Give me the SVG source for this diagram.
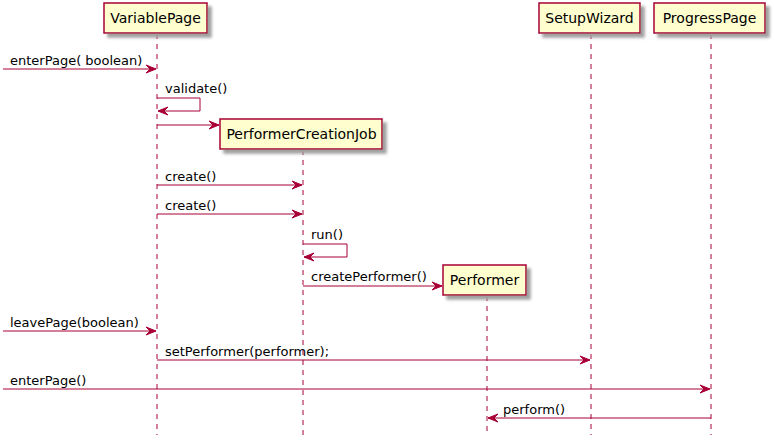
<svg xmlns="http://www.w3.org/2000/svg" width="775" height="448" viewBox="0 0 775 448">
<style>
.box{fill:#FEFECE;stroke:#A80036;stroke-width:1.5;}
.life{stroke:#A80036;stroke-width:1;stroke-dasharray:5,5;fill:none;}
.msg{stroke:#A80036;stroke-width:1;fill:none;}
.head{fill:#A80036;stroke:#A80036;stroke-width:1;}
.pt{font-family:"DejaVu Sans",sans-serif;font-size:14px;fill:#000;text-anchor:middle;}
.mt{font-family:"DejaVu Sans",sans-serif;font-size:13px;fill:#000;}
</style>
<defs>
<filter id="sh" x="-20%" y="-30%" width="150%" height="180%">
<feGaussianBlur in="SourceAlpha" stdDeviation="1.5"/>
<feOffset dx="4" dy="4" result="b"/>
<feColorMatrix in="b" type="matrix" values="0 0 0 0 0.35  0 0 0 0 0.35  0 0 0 0 0.35  0 0 0 1 0" result="c"/>
<feMerge><feMergeNode in="c"/><feMergeNode in="SourceGraphic"/></feMerge>
</filter>
</defs>
<rect width="775" height="448" fill="#FFFFFF"/>
<g id="lifelines">
<line class="life" x1="157" y1="34" x2="157" y2="435"/>
<line class="life" x1="303" y1="150" x2="303" y2="435"/>
<line class="life" x1="487" y1="296" x2="487" y2="435"/>
<line class="life" x1="591" y1="34" x2="591" y2="435"/>
<line class="life" x1="711" y1="34" x2="711" y2="435"/>
</g>
<g id="VariablePage">
<rect class="box" x="104" y="3" width="103" height="30" filter="url(#sh)"/>
<text class="pt" x="155.5" y="23">VariablePage</text>
</g>
<g id="SetupWizard">
<rect class="box" x="539" y="3" width="101" height="30" filter="url(#sh)"/>
<text class="pt" x="589.5" y="23">SetupWizard</text>
</g>
<g id="ProgressPage">
<rect class="box" x="654" y="3" width="111" height="30" filter="url(#sh)"/>
<text class="pt" x="709.5" y="23">ProgressPage</text>
</g>
<g id="PerformerCreationJob">
<rect class="box" x="220" y="119" width="162" height="30" filter="url(#sh)"/>
<text class="pt" x="301.5" y="139">PerformerCreationJob</text>
</g>
<g id="Performer">
<rect class="box" x="443" y="265" width="83" height="30" filter="url(#sh)"/>
<text class="pt" x="484.5" y="285">Performer</text>
</g>
<g id="connectors">
<line class="msg" x1="3" y1="69" x2="156" y2="69"/>
<polygon class="head" points="146,65 156,69 146,73 150,69"/>
<text class="mt" x="10" y="65">enterPage( boolean)</text>

<polyline class="msg" points="157,98 200,98 200,111 158,111"/>
<polygon class="head" points="168,107 158,111 168,115 164,111"/>
<text class="mt" x="165" y="93">validate()</text>

<line class="msg" x1="157" y1="125" x2="219" y2="125"/>
<polygon class="head" points="209,121 219,125 209,129 213,125"/>

<line class="msg" x1="157" y1="185" x2="302" y2="185"/>
<polygon class="head" points="292,181 302,185 292,189 296,185"/>
<text class="mt" x="165" y="181">create()</text>

<line class="msg" x1="157" y1="214" x2="302" y2="214"/>
<polygon class="head" points="292,210 302,214 292,218 296,214"/>
<text class="mt" x="165" y="210">create()</text>

<polyline class="msg" points="303,244 347,244 347,257 304,257"/>
<polygon class="head" points="314,253 304,257 314,261 310,257"/>
<text class="mt" x="311" y="239">run()</text>

<line class="msg" x1="303" y1="286" x2="442" y2="286"/>
<polygon class="head" points="432,282 442,286 432,290 436,286"/>
<text class="mt" x="311" y="281">createPerformer()</text>

<line class="msg" x1="3" y1="331" x2="156" y2="331"/>
<polygon class="head" points="146,327 156,331 146,335 150,331"/>
<text class="mt" x="10" y="327">leavePage(boolean)</text>

<line class="msg" x1="157" y1="360" x2="590" y2="360"/>
<polygon class="head" points="580,356 590,360 580,364 584,360"/>
<text class="mt" x="165" y="356">setPerformer(performer);</text>

<line class="msg" x1="3" y1="389" x2="710" y2="389"/>
<polygon class="head" points="700,385 710,389 700,393 704,389"/>
<text class="mt" x="10" y="385">enterPage()</text>

<line class="msg" x1="488" y1="418" x2="711" y2="418"/>
<polygon class="head" points="498,414 488,418 498,422 494,418"/>
<text class="mt" x="503" y="414">perform()</text>
</g>
</svg>
